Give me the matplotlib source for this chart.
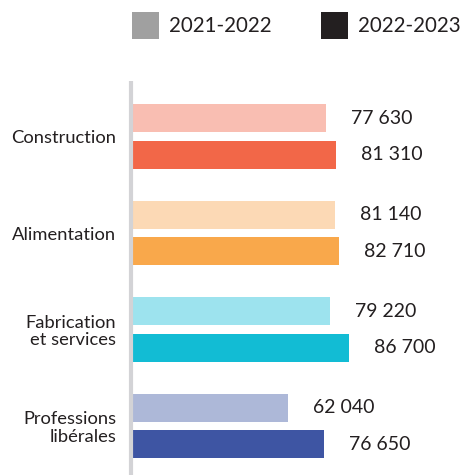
import matplotlib
matplotlib.use("Agg")
import matplotlib.pyplot as plt
from matplotlib.patches import Rectangle

categories = ["Construction", "Alimentation", "Fabrication\net services", "Professions\nlibérales"]
series_names = ["2021-2022", "2022-2023"]
values_2122 = [77630, 81140, 79220, 62040]
values_2223 = [81310, 82710, 86700, 76650]
value_labels_2122 = ["77 630", "81 140", "79 220", "62 040"]
value_labels_2223 = ["81 310", "82 710", "86 700", "76 650"]

colors_light = ["#F9BEB2", "#FCD9B5", "#9DE3EE", "#ADB8D8"]
colors_dark = ["#F26748", "#F9A84B", "#12BCD4", "#3E55A3"]
legend_colors = ["#A0A0A0", "#231F20"]
text_color = "#231F20"

plt.rcParams['font.family'] = ['Lato', 'DejaVu Sans']

W, H = 467, 475
fig = plt.figure(figsize=(W / 100, H / 100), dpi=100)

# axes in pixel geometry
ax_left, ax_top, ax_bottom = 133, 81, 475
ax_right = 467
ax = fig.add_axes([ax_left / W, 1 - ax_bottom / H, (ax_right - ax_left) / W, (ax_bottom - ax_top) / H])

px_per_unit = 216 / 86700.0
ax.set_xlim(0, (ax_right - ax_left) / px_per_unit)
spacing = 96.5
ax.set_ylim((ax_bottom - 136.5) / spacing, -(136.5 - ax_top) / spacing)

off = 0.19
h = 0.29
ys = list(range(len(categories)))
ax.barh([y - off for y in ys], values_2122, height=h, color=colors_light, left=0)
ax.barh([y + off for y in ys], values_2223, height=h, color=colors_dark, left=0)

for y, v, lab in zip(ys, values_2122, value_labels_2122):
    ax.annotate(lab, (v, y - off), xytext=(18, 0), textcoords="offset points",
                ha="left", va="center", fontsize=14, color=text_color)
for y, v, lab in zip(ys, values_2223, value_labels_2223):
    ax.annotate(lab, (v, y + off), xytext=(18, 0), textcoords="offset points",
                ha="left", va="center", fontsize=14, color=text_color)

ax.set_yticks(ys)
ax.set_yticklabels(categories, fontsize=13.2, color=text_color, multialignment="right",
                   linespacing=1.1)
ax.tick_params(axis="y", length=0, pad=12)
ax.set_xticks([])
for s in ["top", "right", "bottom", "left"]:
    ax.spines[s].set_visible(False)

# vertical axis line
fig.add_artist(plt.Line2D([131 / W, 131 / W], [0, 1 - 81 / H], transform=fig.transFigure,
                          color="#D3D3D6", linewidth=3.0, solid_capstyle="butt"))

# legend
sq = 27
for x0, col, name, tx in [(132, legend_colors[0], series_names[0], 169),
                          (321, legend_colors[1], series_names[1], 358)]:
    fig.add_artist(Rectangle((x0 / W, 1 - 39 / H), sq / W, sq / H, transform=fig.transFigure,
                             color=col, linewidth=0))
    fig.text(tx / W, 1 - 26 / H, name, ha="left", va="center", fontsize=14.8, color=text_color)

fig.savefig("out.png", dpi=100)
